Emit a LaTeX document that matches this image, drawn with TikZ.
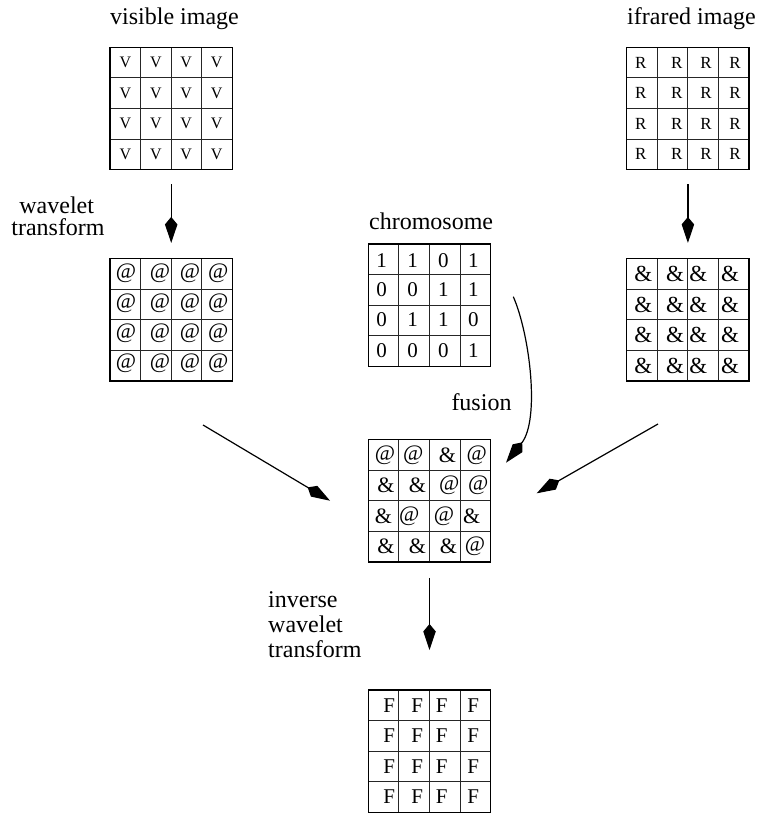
\documentclass[tikz,border=0pt]{standalone}
\usepackage{fontspec}
\setmainfont{Liberation Serif}
\usetikzlibrary{arrows.meta}

% 4x4 grid: name, left x, top y (cell size 30.6)
\newcommand\cellgrid[3]{%
  \foreach \k in {1,2,3} {
    \draw[gridline] ({#2+\k*30.6},#3) -- ({#2+\k*30.6},{#3+122.4});
    \draw[gridline] (#2,{#3+\k*30.6}) -- ({#2+122.4},{#3+\k*30.6});
  }
  \node[gridbox] (#1) at ({#2+61.2},{#3+61.2}) {};
}

\begin{document}
\begin{tikzpicture}[x=1pt,y=-1pt,
  gridbox/.style={draw, line width=1.5pt, minimum size=122.4pt, inner sep=0pt},
  gridline/.style={line width=0.9pt, black!85},
  lbl/.style={font=\fontsize{24}{24}\selectfont, inner sep=0pt},
  symV/.style={font=\fontsize{16}{16}\selectfont, inner sep=0pt},
  symR/.style={font=\fontsize{17}{17}\selectfont, inner sep=0pt},
  symAt/.style={font=\fontsize{22}{22}\selectfont, inner sep=0pt},
  symAmp/.style={font=\fontsize{23}{23}\selectfont, inner sep=0pt},
  symBit/.style={font=\fontsize{21}{21}\selectfont, inner sep=0pt},
  symFus/.style={font=\fontsize{22}{22}\selectfont, inner sep=0pt},
  symF/.style={font=\fontsize{21}{21}\selectfont, inner sep=0pt},
  flow/.style={line width=1.2pt, -{Kite[length=26pt,width=12.5pt,inset=7.5pt]}}]
\useasboundingbox (0,0) rectangle (759,813);

% ---- grids ----
\cellgrid{vis}{110}{47.3}
\cellgrid{wav}{110}{258.7}
\cellgrid{chr}{368.3}{244}
\cellgrid{ir}{626.7}{47.3}
\cellgrid{amp}{626.7}{258.7}
\cellgrid{fus}{368.3}{439.7}
\cellgrid{out}{368.3}{690}

% ---- labels ----
\node[lbl, anchor=base west] (vislbl) at (110,25) {visible image};
\node[lbl, anchor=base west] (irlbl) at (627,25) {ifrared image};
\node[lbl, anchor=base] (wtlbl1) at (56.7,213) {wavelet};
\node[lbl, anchor=base] (wtlbl2) at (58,235) {transform};
\node[lbl, anchor=base east] (chrlbl) at (493.3,229.3) {chromosome};
\node[lbl, anchor=base east] (fuslbl) at (511.7,410) {fusion};
\node[lbl, anchor=base west] (iwt1) at (268,607) {inverse};
\node[lbl, anchor=base west] (iwt2) at (268,632) {wavelet};
\node[lbl, anchor=base west] (iwt3) at (268,657) {transform};

% ---- cell contents ----
\foreach \y [count=\r] in {62.6,93.1,123.5,154}
  \foreach \x [count=\c] in {125.3,155.8,186.2,216.7}
    \node[symV] (vis-\r-\c) at (\x,\y) {V};

\foreach \y [count=\r] in {62.6,93.1,123.5,154}
  \foreach \x [count=\c] in {640.7,676.7,706,735}
    \node[symR] (ir-\r-\c) at (\x,\y) {R};

\foreach \y [count=\r] in {273.3,303.3,333.3,363.3}
  \foreach \x [count=\c] in {126,160,190,218.3}
    \node[symAt] (wav-\r-\c) at (\x,\y) {@};

\foreach \y [count=\r] in {274,304.5,335,365.5}
  \foreach \x [count=\c] in {643.3,675,698.3,730}
    \node[symAmp] (amp-\r-\c) at (\x,\y) {\&};

\foreach \y/\row [count=\r] in {260.2/{1,1,0,1},290/{0,0,1,1},320/{0,1,1,0},350.5/{0,0,0,1}}
  \foreach \d [count=\c] in \row {
    \pgfmathsetmacro\xx{{381.7,412.7,443.3,473.3}[\c-1]}
    \node[symBit] (chr-\r-\c) at (\xx,\y) {\d};
  }

\foreach \x/\y/\s [count=\i] in {
    385/455/@, 413.3/455/@, 447.3/455/\&, 476.7/455/@,
    386/485.5/\&, 417.3/485.5/\&, 449.3/485.5/@, 478.3/485.5/@,
    383.3/516/\&, 409.3/516/@, 444/516/@, 471.7/516/\&,
    386/546.5/\&, 417.3/546.5/\&, 448.3/546.5/\&, 475/546.5/@}
  \node[symFus] (fus-\i) at (\x,\y) {\s};

\foreach \y [count=\r] in {705.3,735.8,766.3,796.8}
  \foreach \x [count=\c] in {389.3,417.3,441.7,473.3}
    \node[symF] (out-\r-\c) at (\x,\y) {F};

% ---- connectors ----
\draw[flow, shorten <=14pt, shorten >=15pt] (vis.south) -- (wav.north);
\draw[flow, shorten <=14pt, shorten >=15pt] (ir.south) -- (amp.north);

\coordinate (lstart) at (203,425);
\coordinate (ltip) at (330,500.7);
\draw[flow] (lstart) -- (ltip);

\coordinate (rstart) at (658,424);
\coordinate (rtip) at (536.7,493.3);
\draw[flow] (rstart) -- (rtip);

\coordinate (cstart) at (513.3,296.7);
\coordinate (ctip) at (506,462.7);
\draw[flow] (cstart) .. controls (530,335) and (540,420) .. (ctip);

\coordinate (dtip) at (429.5,650);
\draw[flow, shorten <=15pt] (fus.south) -- (dtip);
\end{tikzpicture}
\end{document}
